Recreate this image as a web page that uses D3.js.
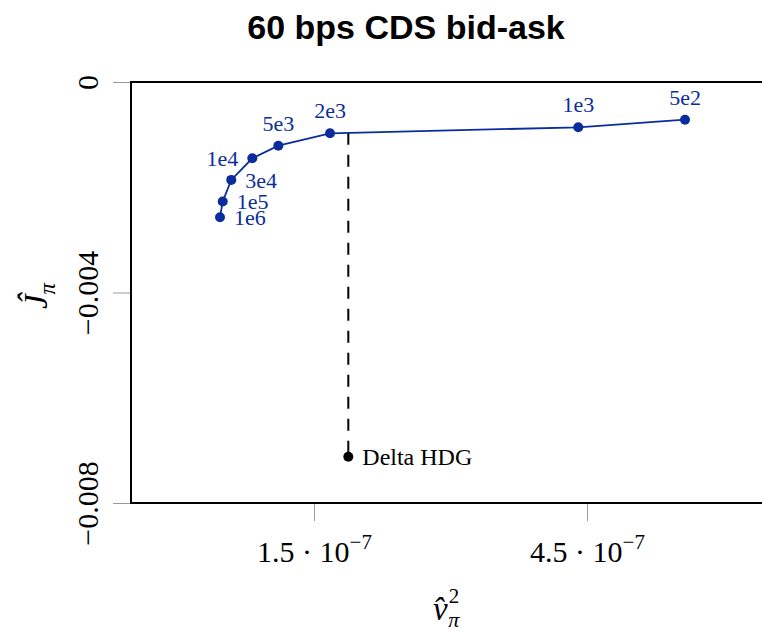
<!DOCTYPE html>
<html>
<head>
<meta charset="utf-8">
<script src="https://cdn.jsdelivr.net/npm/d3@7"></script>
<style>
  body { margin: 0; background: #fff; }
  svg { display: block; }
</style>
</head>
<body>
<svg id="chart" width="762" height="631"></svg>
<script>
// Efficient frontier of the hedging strategy: each point is one penalty level
const penaltyLabels = ["5e2", "1e3", "2e3", "5e3", "1e4", "3e4", "1e5", "1e6"];
const varianceValues = [5.577e-7, 4.404e-7, 1.676e-7, 1.108e-7, 0.822e-7, 0.591e-7, 0.497e-7, 0.467e-7];
const objectiveValues = [-0.000716, -0.000861, -0.000975, -0.00121, -0.00145, -0.00186, -0.00227, -0.00257];
// label placement for each point: above, left or right of the marker
const labelSides = ["top", "top", "top", "top", "left", "right", "right", "right"];

// Delta hedging benchmark
const benchmarkLabel = "Delta HDG";
const benchmarkVariance = 1.877e-7;
const benchmarkObjective = -0.00712;

const xTickValues = [1.5e-7, 4.5e-7];
const xTickMantissas = ["1.5", "4.5"];
const xTickExponent = "−7";
const yTickValues = [0, -0.004, -0.008];
const yTickLabels = ["0", "−0.004", "−0.008"];

const titleText = "60 bps CDS bid-ask";

(function draw() {
  const svg = d3.select("#chart");
  const plotLeft = 131, plotTop = 82, plotBottom = 503, plotRight = 762;
  const blue = "#0b2d9b";
  const serif = "'Liberation Serif', 'DejaVu Serif', serif";

  const x = d3.scaleLinear().domain([-0.511e-7, 6.423e-7]).range([plotLeft, plotRight]);
  const y = d3.scaleLinear().domain([-0.008, 0]).range([plotBottom, plotTop]);

  // title
  svg.append("text")
    .attr("x", 406).attr("y", 39)
    .attr("text-anchor", "middle")
    .style("font-family", "'Liberation Sans', Arial, sans-serif")
    .style("font-weight", "bold")
    .style("font-size", "34px")
    .text(titleText);

  // x axis (ticks outward, grey)
  const xAxis = svg.append("g")
    .attr("transform", `translate(0,${plotBottom})`)
    .call(d3.axisBottom(x).tickValues(xTickValues).tickSizeInner(18).tickSizeOuter(0).tickFormat(""));
  xAxis.select(".domain").remove();
  xAxis.selectAll(".tick line").attr("stroke", "#9a9a9a").attr("stroke-width", 1);
  xAxis.selectAll(".tick").each(function(d, i) {
    const t = d3.select(this).append("text")
      .attr("y", 59).attr("fill", "#000")
      .attr("text-anchor", "middle")
      .style("font-family", serif)
      .style("font-size", "30px");
    t.append("tspan").text(xTickMantissas[i] + " · 10");
    t.append("tspan").attr("dy", -13).style("font-size", "21px").text(xTickExponent);
  });

  // y axis (ticks outward, grey, rotated labels)
  const yAxis = svg.append("g")
    .attr("transform", `translate(${plotLeft},0)`)
    .call(d3.axisLeft(y).tickValues(yTickValues).tickSizeInner(18).tickSizeOuter(0).tickFormat(""));
  yAxis.select(".domain").remove();
  yAxis.selectAll(".tick line").attr("stroke", "#9a9a9a").attr("stroke-width", 1);
  yAxis.selectAll(".tick").each(function(d, i) {
    d3.select(this).append("text")
      .attr("transform", "translate(-33,0) rotate(-90)")
      .attr("fill", "#000")
      .attr("text-anchor", "middle")
      .style("font-family", serif)
      .style("font-size", "30px")
      .text(yTickLabels[i]);
  });

  // plot frame (left, top, bottom)
  const frame = svg.append("g").attr("stroke", "#000").attr("stroke-width", 2).attr("fill", "none");
  frame.append("line").attr("x1", plotLeft).attr("x2", plotRight).attr("y1", plotTop).attr("y2", plotTop);
  frame.append("line").attr("x1", plotLeft).attr("x2", plotRight).attr("y1", plotBottom).attr("y2", plotBottom);
  frame.append("line").attr("x1", plotLeft).attr("x2", plotLeft).attr("y1", plotTop - 1).attr("y2", plotBottom + 1);

  // axis titles
  const yl = svg.append("text")
    .attr("transform", "translate(47,296) rotate(-90)")
    .attr("text-anchor", "middle")
    .style("font-family", serif)
    .style("font-size", "33px")
    .style("font-style", "italic");
  yl.append("tspan").text("Ĵ");
  yl.append("tspan").attr("dy", 8).style("font-size", "23px").text("π");

  // v-hat with stacked superscript 2 and subscript pi
  const xl = svg.append("text")
    .attr("x", 433).attr("y", 620)
    .style("font-family", serif)
    .style("font-style", "italic")
    .style("font-size", "33px");
  xl.append("tspan").text("v\u0302");
  xl.append("tspan").attr("dy", -17).attr("dx", 1).style("font-size", "21px").style("font-style", "normal").text("2");
  xl.append("tspan").attr("dy", 24).attr("dx", -11).style("font-size", "22px").text("π");

  // frontier data
  const pts = penaltyLabels.map((lab, i) => ({
    label: lab, v: varianceValues[i], j: objectiveValues[i], side: labelSides[i]
  }));

  // dashed drop line from the frontier to the benchmark
  const sorted = pts.slice().sort((a, b) => a.v - b.v);
  const k = d3.bisector(d => d.v).left(sorted, benchmarkVariance);
  const p0 = sorted[k - 1], p1 = sorted[k];
  const jOnFrontier = d3.interpolateNumber(p0.j, p1.j)((benchmarkVariance - p0.v) / (p1.v - p0.v));
  svg.append("line")
    .attr("x1", x(benchmarkVariance)).attr("x2", x(benchmarkVariance))
    .attr("y1", y(jOnFrontier)).attr("y2", y(benchmarkObjective))
    .attr("stroke", "#000").attr("stroke-width", 2)
    .attr("stroke-dasharray", "12,10");

  // frontier line and markers
  svg.append("path")
    .datum(pts)
    .attr("fill", "none")
    .attr("stroke", blue)
    .attr("stroke-width", 1.8)
    .attr("d", d3.line().x(d => x(d.v)).y(d => y(d.j)));

  svg.append("g").selectAll("circle").data(pts).join("circle")
    .attr("cx", d => x(d.v)).attr("cy", d => y(d.j)).attr("r", 5)
    .attr("fill", blue);

  svg.append("g").selectAll("text").data(pts).join("text")
    .attr("x", d => x(d.v) + (d.side === "top" ? 0 : d.side === "left" ? -14 : 14))
    .attr("y", d => y(d.j) + (d.side === "top" ? -15 : 8))
    .attr("text-anchor", d => d.side === "top" ? "middle" : d.side === "left" ? "end" : "start")
    .attr("fill", blue)
    .style("font-family", serif)
    .style("font-size", "22px")
    .text(d => d.label);

  // benchmark point
  svg.append("circle")
    .attr("cx", x(benchmarkVariance)).attr("cy", y(benchmarkObjective)).attr("r", 5)
    .attr("fill", "#000");
  svg.append("text")
    .attr("x", x(benchmarkVariance) + 14).attr("y", y(benchmarkObjective) + 8)
    .style("font-family", serif)
    .style("font-size", "24px")
    .text(benchmarkLabel);
})();
</script>
</body>
</html>
